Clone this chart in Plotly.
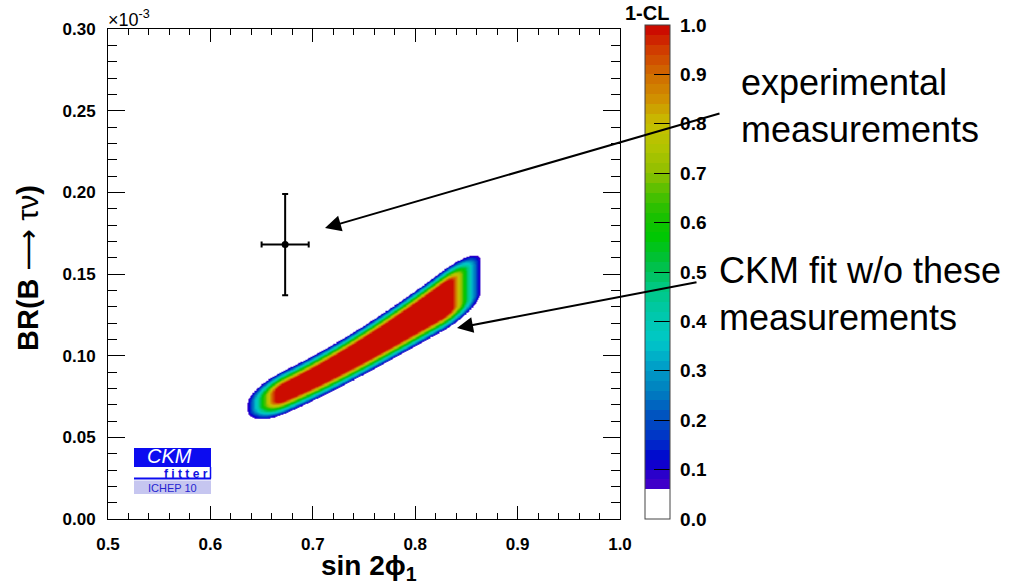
import numpy as np
import plotly.graph_objects as go

# ---------------- data ----------------
# CKM fit band (1-CL), described by its centre line, red-plateau half-height and tail width
band_x = [0.635, 0.665, 0.700, 0.733, 0.766, 0.798, 0.834, 0.860]
band_y = [0.0680, 0.0765, 0.0860, 0.0971, 0.1096, 0.1228, 0.1360, 0.1475]
band_core = [0.0045, 0.0052, 0.0060, 0.0069, 0.0077, 0.0088, 0.0112, 0.0122]
band_tail = [0.0088, 0.0085, 0.0082, 0.0082, 0.0082, 0.0082, 0.0085, 0.0088]
core_x_range = [0.663, 0.836]
end_tail = 0.029

# experimental measurement
meas_x = [0.673]
meas_y = [0.168]
meas_ex = [0.023]
meas_ey = [0.031]

x_ticks = [0.5, 0.6, 0.7, 0.8, 0.9, 1.0]
x_ticklabels = ["0.5", "0.6", "0.7", "0.8", "0.9", "1.0"]
y_ticks = [0.0, 0.05, 0.10, 0.15, 0.20, 0.25, 0.30]
y_ticklabels = ["0.00", "0.05", "0.10", "0.15", "0.20", "0.25", "0.30"]
cl_ticks = [0.0, 0.1, 0.2, 0.3, 0.4, 0.5, 0.6, 0.7, 0.8, 0.9, 1.0]
cl_ticklabels = ["0.0", "0.1", "0.2", "0.3", "0.4", "0.5", "0.6", "0.7", "0.8", "0.9", "1.0"]

# palette anchors (value, colour)
pal_vals = [0.06, 0.10, 0.12, 0.16, 0.205, 0.26, 0.31, 0.36, 0.42, 0.47, 0.52,
            0.573, 0.62, 0.66, 0.70, 0.75, 0.80, 0.85, 0.90, 0.95, 1.00]
pal_cols = ["#4a00c8", "#2000cc", "#0000d0", "#0030c8", "#0050c0", "#0080c0", "#00a0c8",
            "#00c8c8", "#00c8a8", "#00c880", "#00c040", "#00c800", "#20c000", "#50c000",
            "#90c000", "#b0c400", "#c8c000", "#d09000", "#d06c00", "#d03c00", "#cc0000"]
cl_min = 0.06
cl_step = 0.02


# ---------------- helpers ----------------
def hex2rgb(h):
    h = h.lstrip("#")
    return np.array([int(h[i:i + 2], 16) for i in (0, 2, 4)], dtype=float)


rgb = np.array([hex2rgb(c) for c in pal_cols])


def pal(v):
    return [float(np.interp(v, pal_vals, rgb[:, k])) for k in range(3)]


edges = np.round(np.arange(cl_min, 1.0 + 1e-9, cl_step), 4)
colorscale = [[0.0, "white"], [cl_min, "white"]]
for lo, hi in zip(edges[:-1], edges[1:]):
    r, g, b = pal(0.5 * (lo + hi))
    col = f"rgb({int(r)},{int(g)},{int(b)})"
    colorscale.append([float(lo), col])
    colorscale.append([float(hi), col])

# ---------------- 1-CL surface ----------------
gx = np.linspace(0.615, 0.885, 400)
gy = np.linspace(0.045, 0.18, 400)
X, Y = np.meshgrid(gx, gy)
c = np.polyval(np.polyfit(band_x, band_y, 3), X)
h = np.polyval(np.polyfit(band_x, band_core, 3), X)
t = np.polyval(np.polyfit(band_x, band_tail, 2), X)
xL, xR = core_x_range
delta = 0.35  # rounding of the plateau corners (fraction of the tail)
h_in = np.maximum(h - delta * t, 0)
xLi, xRi = xL + delta * end_tail, xR - delta * end_tail
dv = np.maximum(0.0, np.abs(Y - c) - h_in) / t
dx = np.maximum(0.0, np.maximum(xLi - X, X - xRi)) / end_tail
D = np.sqrt(dv ** 2 + dx ** 2)
Z = np.clip(1.0 - (D - delta), 0, 1)

# ---------------- figure ----------------
L, R, T, B = 108, 405, 29, 68
W, H = 1025, 587
PW, PH = W - L - R, H - T - B


def px(xp):
    return (xp - L) / PW


def py(yp):
    return (H - B - yp) / PH


def dxp(xp):
    return 0.5 + (xp - L) / PW * 0.5


def dyp(yp):
    return (H - B - yp) / PH * 0.3


fig = go.Figure()
fig.add_trace(go.Heatmap(
    x=gx, y=gy, z=Z, zmin=0, zmax=1, zsmooth="best", colorscale=colorscale,
    showscale=True, hoverinfo="skip",
    colorbar=dict(
        x=px(645), xanchor="left", xpad=0, y=0, yanchor="bottom", ypad=0,
        len=494, lenmode="pixels", thickness=25, thicknessmode="pixels",
        outlinewidth=1, outlinecolor="#444",
        tickvals=cl_ticks, ticktext=[" " + s for s in cl_ticklabels], ticks="inside", ticklen=16,
        tickcolor="black", tickwidth=1,
        tickfont=dict(size=19, color="black", weight="bold", family="Liberation Sans"),
    ),
))

fig.add_trace(go.Scatter(
    x=meas_x, y=meas_y, mode="markers",
    marker=dict(color="black", size=7),
    error_x=dict(type="data", array=meas_ex, color="black", thickness=2, width=3),
    error_y=dict(type="data", array=meas_ey, color="black", thickness=2, width=3),
    hoverinfo="skip",
))

tickfont = dict(size=17, color="black", weight="bold", family="Liberation Sans")
fig.update_xaxes(
    range=[0.5, 1.0], tickvals=x_ticks, ticktext=x_ticklabels, ticks="inside",
    ticklen=13, tickwidth=1, tickcolor="black", showline=True, linecolor="black",
    linewidth=1, mirror="allticks", showgrid=False, zeroline=False, tickfont=tickfont,
    ticklabelstandoff=10,
    minor=dict(tick0=0.5, dtick=0.02, ticks="inside", ticklen=6, tickcolor="black", showgrid=False),
)
fig.update_yaxes(
    range=[0.0, 0.3], tickvals=y_ticks, ticktext=y_ticklabels, ticks="inside",
    ticklen=17, tickwidth=1, tickcolor="black", showline=True, linecolor="black",
    linewidth=1, mirror="allticks", showgrid=False, zeroline=False, tickfont=tickfont,
    ticklabelstandoff=8,
    minor=dict(tick0=0.0, dtick=0.01, ticks="inside", ticklen=9, tickcolor="black", showgrid=False),
)

ann = []
ann.append(dict(xref="paper", yref="paper", x=px(106), y=py(19), xanchor="left", yanchor="middle",
                text="×10<sup>-3</sup>", showarrow=False,
                font=dict(size=18, color="black", family="Liberation Sans")))
ann.append(dict(xref="paper", yref="paper", x=px(671), y=py(13), xanchor="right", yanchor="middle",
                text="1-CL", showarrow=False,
                font=dict(size=20, color="black", weight="bold", family="Liberation Sans")))
ann.append(dict(xref="paper", yref="paper", x=px(369), y=py(567), xanchor="center", yanchor="middle",
                text="<b>sin 2ϕ<sub>1</sub></b>", showarrow=False,
                font=dict(size=28, color="black", family="Liberation Sans")))
ann.append(dict(xref="paper", yref="paper", x=px(28), y=py(268), xanchor="center", yanchor="middle",
                text="<b>BR(B </b><span style='font-family:DejaVu Sans'>⟶</span> τν<b>)</b>",
                textangle=-90, showarrow=False,
                font=dict(size=29, color="black", family="Liberation Sans")))
ann.append(dict(xref="paper", yref="paper", x=px(739), y=py(106), xanchor="left", yanchor="middle",
                align="left", text="experimental<br>measurements", showarrow=False,
                font=dict(size=36, color="black", family="Liberation Sans")))
ann.append(dict(xref="paper", yref="paper", x=px(717), y=py(294), xanchor="left", yanchor="middle",
                align="left", text="CKM fit w/o these<br>measurements", showarrow=False,
                font=dict(size=36, color="black", family="Liberation Sans")))
# arrows
ann.append(dict(xref="x", yref="y", x=dxp(325), y=dyp(228), ax=721 - 325, ay=113 - 228,
                axref="pixel", ayref="pixel", text="", showarrow=True, arrowhead=2,
                arrowsize=1.6, arrowwidth=2, arrowcolor="black", standoff=0, startstandoff=0))
ann.append(dict(xref="x", yref="y", x=dxp(457), y=dyp(328), ax=698 - 457, ay=282 - 328,
                axref="pixel", ayref="pixel", text="", showarrow=True, arrowhead=2,
                arrowsize=1.6, arrowwidth=2, arrowcolor="black", standoff=0, startstandoff=0))
# CKMfitter logo texts
ann.append(dict(xref="paper", yref="paper", x=px(169), y=py(455.5), xanchor="center", yanchor="middle",
                text="CKM", showarrow=False,
                font=dict(size=20, color="white", style="italic", family="Liberation Sans")))
ann.append(dict(xref="paper", yref="paper", x=px(186), y=py(474), xanchor="center", yanchor="middle",
                text="<b>f i t t e r</b>", showarrow=False,
                font=dict(size=12, color="#1010e0", family="Liberation Sans")))
ann.append(dict(xref="paper", yref="paper", x=px(172.5), y=py(487.5), xanchor="center", yanchor="middle",
                text="ICHEP 10", showarrow=False,
                font=dict(size=11, color="#2525d0", family="Liberation Sans")))

shapes = [
    dict(type="rect", xref="x", yref="y", x0=dxp(134), x1=dxp(211), y0=dyp(467), y1=dyp(448),
         fillcolor="#0c0cf0", line=dict(width=0)),
    dict(type="line", xref="x", yref="y", x0=dxp(134), x1=dxp(211), y0=dyp(478.5), y1=dyp(478.5),
         line=dict(color="#0c0cf0", width=2)),
    dict(type="line", xref="x", yref="y", x0=dxp(210.5), x1=dxp(210.5), y0=dyp(478.5), y1=dyp(467),
         line=dict(color="#0c0cf0", width=1.5)),
    dict(type="rect", xref="x", yref="y", x0=dxp(134), x1=dxp(211), y0=dyp(494), y1=dyp(480.5),
         fillcolor="#c6c6f0", line=dict(width=0)),
]

fig.update_layout(
    width=W, height=H, margin=dict(l=L, r=R, t=T, b=B, autoexpand=False),
    plot_bgcolor="white", paper_bgcolor="white", showlegend=False,
    font=dict(family="Liberation Sans, Arial, sans-serif", color="black"),
    annotations=ann, shapes=shapes,
)

fig.write_html("out.html")
